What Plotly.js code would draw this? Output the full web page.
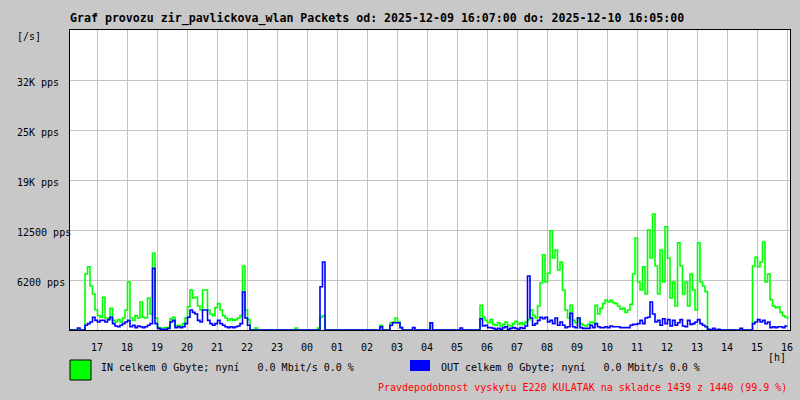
<!DOCTYPE html>
<html>
<head>
<meta charset="utf-8">
<script src="https://cdn.plot.ly/plotly-3.0.1.min.js"></script>
<style>html,body{margin:0;padding:0;background:#c8c8c8;}#chart{width:800px;height:400px;}</style>
</head>
<body>
<div id="chart"></div>
<script>
// 5-minute samples starting 16:06 (x in hours after 16:00)
const startHour = 0.1;
const stepHours = 5 / 60;

const inPps = [
  0,0,0,0,0,0,7000,7900,5500,4500,2500,1800,
  1600,4100,1500,1500,2700,1200,1000,1300,1000,1500,2500,6000,
  1500,1200,1800,1500,3500,1600,1500,4000,2000,9600,1500,300,
  250,250,300,300,1400,1600,500,600,500,800,1500,2900,
  5000,4000,4100,3000,2500,5000,5000,2500,2000,1800,2800,3300,
  2500,1800,1500,1200,1400,1200,1300,1500,1800,8000,2500,1300,
  0,0,250,0,0,0,0,0,0,0,0,0,
  0,0,0,0,0,0,250,0,0,0,0,0,
  0,0,0,250,1600,1800,0,0,0,0,0,0,
  0,0,0,0,0,0,0,0,0,0,0,0,
  0,0,0,0,600,0,0,0,900,1000,1500,1000,
  300,0,0,0,0,0,0,0,0,0,0,0,
  900,0,0,0,0,0,0,0,0,0,0,0,
  0,0,0,0,0,0,0,0,3100,1600,1200,900,
  1300,700,600,900,500,700,1000,600,500,800,1100,700,
  900,700,1000,1300,2500,1800,1500,3000,5900,9400,6000,7100,
  12400,9000,10000,7500,8500,5000,2500,1500,3100,1200,900,1500,
  800,600,500,700,1000,900,3100,2000,2700,3300,3750,3500,
  3700,3400,3300,3000,2600,2700,2200,2500,3200,7000,11500,6000,
  5000,7900,4500,12500,9000,14500,8000,4500,10000,6000,12900,9000,
  4000,6000,3000,10900,8000,4500,6000,3000,7000,5000,2500,10900,
  6000,5500,4800,0,0,0,0,0,0,0,0,0,
  0,0,0,0,0,0,0,0,0,8000,9100,7900,
  8500,11000,6000,7000,3800,3000,2800,2900,2200,1800,1600,1300
];

const outPps = [
  0,0,0,250,0,0,600,800,1000,1600,1200,1000,
  1200,1200,1000,1300,1600,800,500,400,600,800,1000,1200,
  400,600,300,500,400,300,400,600,800,7700,800,200,
  100,100,100,200,1000,1200,300,400,300,400,800,1600,
  2500,2200,2000,1200,1000,2500,2500,1200,800,600,800,1200,
  800,600,400,300,400,300,400,500,800,4750,1500,600,
  0,0,0,0,0,0,0,0,0,0,0,0,
  0,0,0,0,0,0,0,0,0,0,0,0,
  0,0,0,0,5400,8500,0,0,0,0,0,0,
  0,0,0,0,0,0,0,0,0,0,0,0,
  0,0,0,0,400,0,0,0,600,900,900,900,
  300,0,0,0,0,300,0,0,0,0,0,0,
  900,0,0,0,0,0,0,0,0,0,0,0,
  250,0,0,0,0,0,0,0,1400,500,600,300,
  300,200,100,200,100,300,400,100,200,300,200,100,
  300,200,500,6750,1500,600,800,1200,1600,1400,1600,1000,
  1200,800,1500,600,1000,600,300,400,2100,400,300,1500,
  300,200,200,200,600,300,800,400,300,300,400,300,
  500,400,400,400,300,300,300,300,600,700,700,800,
  1200,800,1500,1600,3500,2000,1000,1200,600,1400,800,1300,
  500,1200,600,900,1300,500,400,1200,700,800,1000,1300,
  800,600,400,100,0,200,0,100,0,0,0,0,
  0,0,0,0,200,0,0,0,0,800,1000,1300,
  1000,1200,800,1000,300,400,300,400,400,300,500,500
];

const hourTicks = [1,2,3,4,5,6,7,8,9,10,11,12,13,14,15,16,17,18,19,20,21,22,23,24];
const hourLabels = ['17','18','19','20','21','22','23','00','01','02','03','04','05','06','07','08','09','10','11','12','13','14','15','16'];
const yTicks = [6250, 12500, 18750, 25000, 31250];
const yLabels = ['6200 pps', '12500 pps', '19K pps', '25K pps', '32K pps'];

const titleText = 'Graf provozu zir_pavlickova_wlan Packets od: 2025-12-09 16:07:00 do: 2025-12-10 16:05:00';
const inLegend = 'IN celkem 0 Gbyte; nyní   0.0 Mbit/s 0.0 %';
const outLegend = 'OUT celkem 0 Gbyte; nyní   0.0 Mbit/s 0.0 %';
const footer = 'Pravdepodobnost vyskytu E220 KULATAK na skladce 1439 z 1440 (99.9 %)';

const times = inPps.map((_, i) => startHour + i * stepHours);
const mono = 'DejaVu Sans Mono, Liberation Mono, monospace';
const keepSpaces = s => s.replace(/ /g, '\u00a0');

const data = [
  {x: times, y: inPps, type: 'scatter', mode: 'lines', line: {shape: 'hv', color: '#00ff00', width: 1.6}, name: 'IN'},
  {x: times, y: outPps, type: 'scatter', mode: 'lines', line: {shape: 'hv', color: '#0000ff', width: 1.6}, name: 'OUT'}
];

const yLabelAnns = yTicks.map((v, i) => ({
  text: yLabels[i], xref: 'paper', yref: 'y', x: -55/720, y: v, xanchor: 'left', yanchor: 'middle',
  yshift: -2, showarrow: false, font: {family: mono, size: 10}
}));

const layout = {
  width: 800, height: 400,
  paper_bgcolor: '#c8c8c8', plot_bgcolor: '#ffffff',
  margin: {l: 70, r: 10, t: 30, b: 70},
  showlegend: false,
  font: {family: mono, size: 10, color: '#000000'},
  title: {text: titleText, xref: 'paper', x: 0, xanchor: 'left', yref: 'container', y: 1 - 18/400, yanchor: 'middle',
          font: {family: mono, size: 11.6, weight: 700, color: '#000000'}},
  xaxis: {range: [0.1, 24.1], tickvals: hourTicks, ticktext: hourLabels, showgrid: true, gridcolor: '#c4c4c4', gridwidth: 1,
          showline: true, linecolor: '#000000', linewidth: 1, mirror: true, ticks: '', zeroline: false,
          tickfont: {family: mono, size: 10}, ticklabelstandoff: 8, fixedrange: true},
  yaxis: {range: [0, 37500], tickvals: yTicks, showticklabels: false, showgrid: true, gridcolor: '#c4c4c4', gridwidth: 1,
          showline: true, linecolor: '#000000', linewidth: 1, mirror: true, ticks: '', zeroline: false, fixedrange: true},
  shapes: [
    {type: 'rect', xref: 'paper', yref: 'paper', x0: 0, x1: 21/720, y0: -30/300, y1: -50/300, fillcolor: '#00ff00', line: {color: '#000000', width: 1}},
    {type: 'rect', xref: 'paper', yref: 'paper', x0: 340/720, x1: 360/720, y0: -30/300, y1: -41/300, fillcolor: '#0000ff', line: {width: 0}}
  ],
  annotations: yLabelAnns.concat([
    {text: '[/s]', xref: 'paper', yref: 'paper', x: -55/720, y: 1 - 7/300, xanchor: 'left', yanchor: 'middle', showarrow: false, font: {family: mono, size: 10}},
    {text: '[h]', xref: 'paper', yref: 'paper', x: 1 - 2/720, y: -27/300, xanchor: 'right', yanchor: 'middle', showarrow: false, font: {family: mono, size: 10}},
    {text: keepSpaces(inLegend), xref: 'paper', yref: 'paper', x: 29/720, y: -37/300, xanchor: 'left', yanchor: 'middle', showarrow: false, font: {family: mono, size: 10}},
    {text: keepSpaces(outLegend), xref: 'paper', yref: 'paper', x: 369/720, y: -37/300, xanchor: 'left', yanchor: 'middle', showarrow: false, font: {family: mono, size: 10}},
    {text: footer, xref: 'paper', yref: 'paper', x: 1 - 1/720, y: -57/300, xanchor: 'right', yanchor: 'middle', showarrow: false, font: {family: mono, size: 10, color: '#ff0000'}}
  ])
};

Plotly.newPlot('chart', data, layout, {displayModeBar: false, staticPlot: true});
</script>
</body>
</html>
